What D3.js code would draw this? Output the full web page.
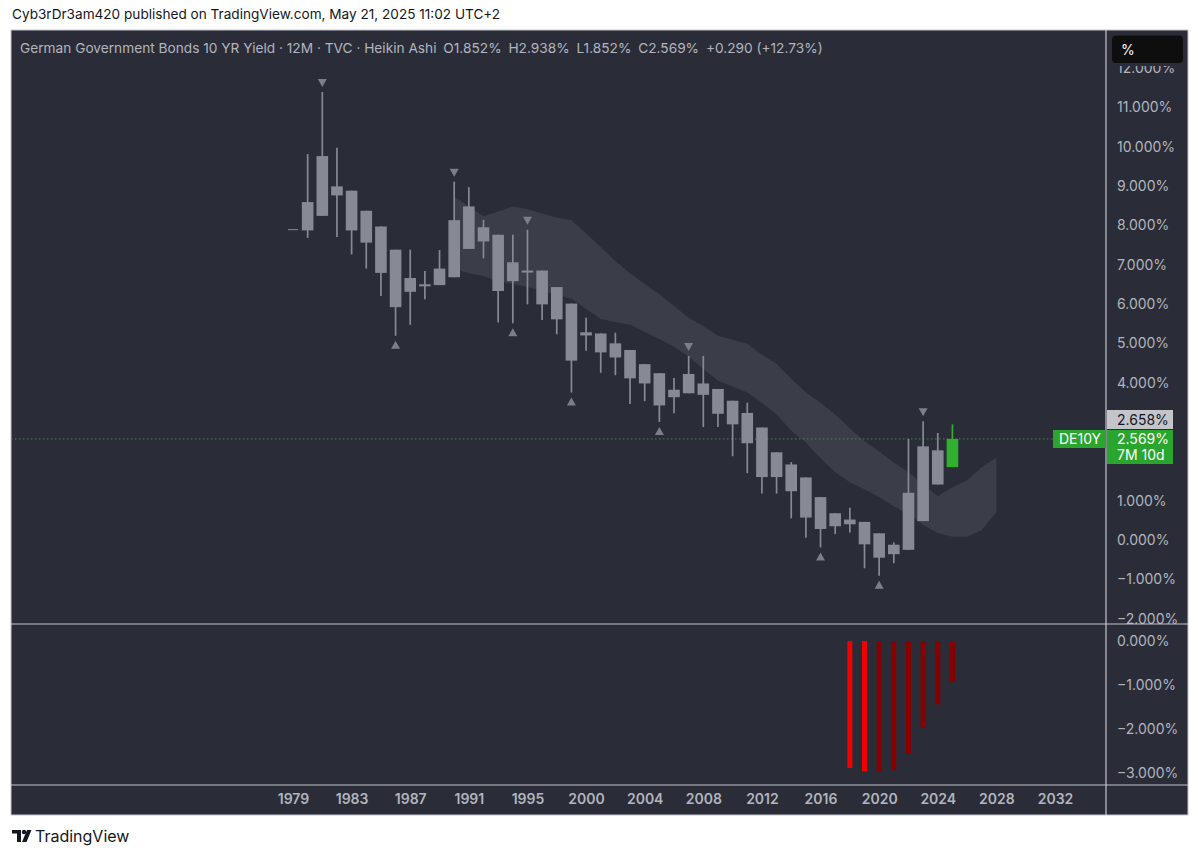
<!DOCTYPE html>
<html lang="en">
<head>
  <meta charset="utf-8" />
  <title>DE10Y Heikin Ashi 12M</title>
  <script src="https://d3js.org/d3.v7.min.js"></script>
  <style>
    body { margin: 0; background: #ffffff; font-family: Inter, "Noto Sans", sans-serif; }
    .axis text { fill: #b2b5be; font-size: 14px; font-family: Inter, sans-serif; }
    .taxis text { font-weight: 600; }
  </style>
</head>
<body>
<svg width="1200" height="856"></svg>
<script>
// year labels every 4 bars
const tickLabels = ["1979", "1983", "1987", "1991", "1995", "2000", "2004",
  "2008", "2012", "2016", "2020", "2024", "2028", "2032"];

// heikin ashi candles, one per year (bar index 0..45)
const haOpen  = [7.89, 7.87, 8.24, 8.99, 8.88, 8.37, 7.97, 7.38, 6.66, 6.48,
  6.48, 6.68, 7.40, 7.95, 7.76, 7.06, 6.82, 6.85, 6.43, 6.01,
  5.28, 5.25, 5.00, 4.83, 4.47, 4.24, 3.82, 3.73, 3.98, 3.84,
  3.54, 3.23, 2.86, 2.23, 1.92, 1.59, 1.09, 0.68, 0.52, 0.46,
  0.17, -0.12, -0.25, 0.48, 1.41, 1.852];
const haHigh  = [7.89, 9.81, 11.39, 9.97, 8.88, 8.37, 7.97, 7.38, 7.38, 6.84,
  7.37, 9.11, 8.97, 8.14, 7.76, 7.76, 7.89, 6.85, 6.43, 6.01,
  5.65, 5.25, 5.27, 4.83, 4.47, 4.24, 4.12, 4.68, 4.68, 3.84,
  3.54, 3.49, 2.86, 2.23, 1.98, 1.59, 1.09, 0.68, 0.82, 0.46,
  0.17, -0.06, 2.57, 3.02, 2.72, 2.938];
const haLow   = [7.89, 7.68, 8.24, 7.70, 7.26, 6.90, 6.20, 5.19, 5.47, 6.12,
  6.48, 6.68, 7.40, 7.16, 5.53, 5.51, 5.99, 5.59, 5.23, 3.75,
  4.81, 4.25, 4.19, 3.46, 3.53, 3.00, 3.22, 3.73, 2.87, 2.87,
  2.13, 1.70, 1.18, 1.18, 0.55, 0.06, -0.19, 0.15, 0.19, -0.72,
  -0.91, -0.59, -0.25, 0.48, 1.41, 1.852];
const haClose = [7.89, 8.59, 9.76, 8.76, 7.87, 7.56, 6.79, 5.92, 6.31, 6.50,
  6.90, 8.13, 8.48, 7.59, 6.33, 6.58, 6.85, 5.99, 5.61, 4.56,
  5.20, 4.77, 4.64, 4.11, 3.98, 3.42, 3.63, 4.22, 3.69, 3.21,
  2.94, 2.46, 1.60, 1.60, 1.24, 0.57, 0.28, 0.35, 0.40, -0.11,
  -0.45, -0.36, 1.20, 2.38, 2.28, 2.569];

// pivot markers (bar indices)
const markDown = [2, 11, 16, 27, 43];
const markUp = [7, 15, 19, 25, 36, 40];

// shaded band, starts at bar 11, runs 3 bars past the last candle
const bandStart = 11;
const bandUpper = [8.73, 8.48, 8.23, 8.35, 8.48, 8.41, 8.30, 8.20, 8.13, 7.80,
  7.44, 7.09, 6.78, 6.51, 6.25, 5.95, 5.65, 5.44, 5.19, 5.09,
  4.99, 4.71, 4.48, 4.10, 3.75, 3.49, 3.19, 2.84, 2.51, 2.25,
  1.97, 1.72, 1.42, 1.11, 1.34, 1.52, 1.85, 2.10];
const bandLower = [6.89, 6.78, 6.71, 6.58, 6.51, 6.43, 6.33, 6.23, 6.13, 5.87,
  5.62, 5.54, 5.47, 5.29, 5.11, 4.91, 4.66, 4.35, 4.05, 3.90,
  3.75, 3.49, 3.19, 2.78, 2.48, 2.08, 1.72, 1.47, 1.29, 1.09,
  0.86, 0.66, 0.38, 0.18, 0.08, 0.08, 0.25, 0.71];

// lower pane histogram, starts at bar 38
const histStart = 38;
const histVals = [-2.88, -2.96, -2.95, -2.93, -2.56, -1.97, -1.44, -0.93];

// 3% and 2% sit under the price tags, as in the original
const mainTicks = [12, 11, 10, 9, 8, 7, 6, 5, 4, 1, 0, -1, -2];
const subTicks = [0, -1, -2, -3];

const svg = d3.select("svg");
const L = 11, R = 1188, T = 30, B = 815, AX = 1106, PANE = 624, TAX = 785;

const x = d3.scaleLinear().domain([0, 52]).range([293, 1055]);
const y = d3.scaleLinear().domain([0, 11]).range([540, 107.3]);
const y2 = d3.scaleLinear().domain([0, -3]).range([641, 773.3]);
const fmt = d => d3.format(".3f")(d) + "%";

// header
svg.append("text").attr("x", 12).attr("y", 19)
  .attr("font-size", 13.6).attr("fill", "#131722")
  .text("Cyb3rDr3am420 published on TradingView.com, May 21, 2025 11:02 UTC+2");

// frame
svg.append("rect").attr("x", L).attr("y", T).attr("width", R - L).attr("height", B - T)
  .attr("fill", "#2a2d38").attr("stroke", "#c4c6cc").attr("stroke-width", 1);

const defs = svg.append("defs");
defs.append("clipPath").attr("id", "labelClip").append("rect")
  .attr("x", AX).attr("y", 66).attr("width", R - AX).attr("height", PANE - 66);
defs.append("clipPath").attr("id", "plotClip").append("rect")
  .attr("x", L).attr("y", T).attr("width", AX - L).attr("height", PANE - T);

const plot = svg.append("g").attr("clip-path", "url(#plotClip)");

// band
const bandIdx = bandUpper.map((d, i) => bandStart + i);
plot.append("path")
  .datum(bandIdx)
  .attr("fill", "#3b3d48")
  .attr("d", d3.area()
    .x(i => x(i))
    .y0(i => y(bandLower[i - bandStart]))
    .y1(i => y(bandUpper[i - bandStart])));

// current price line
plot.append("line")
  .attr("x1", L).attr("x2", AX)
  .attr("y1", y(haClose[45])).attr("y2", y(haClose[45]))
  .attr("stroke", "#3f8f44").attr("stroke-width", 1).attr("stroke-dasharray", "1.5,2.5");

// candles
const idx = d3.range(haOpen.length);
const last = haOpen.length - 1;
const col = i => i === last ? "#2fb02f" : "#878a94";
const cg = plot.append("g");
cg.selectAll("line.wick").data(idx).join("line")
  .attr("class", "wick")
  .attr("x1", i => x(i)).attr("x2", i => x(i))
  .attr("y1", i => y(haHigh[i])).attr("y2", i => y(haLow[i]))
  .attr("stroke", col).attr("stroke-width", 1.7);
cg.selectAll("rect").data(idx).join("rect")
  .attr("x", i => x(i) - 5.8)
  .attr("width", 11.6)
  .attr("y", i => Math.min(y(haOpen[i]), y(haClose[i])) - (i === 0 ? 0.5 : 0))
  .attr("height", i => Math.max(Math.abs(y(haOpen[i]) - y(haClose[i])), i === 0 ? 1 : 2))
  .attr("fill", col);
// candle 0 is a bare dash
cg.select("rect").attr("x", x(0) - 5).attr("width", 10).attr("fill", "#878a94");

// markers
const mg = plot.append("g").attr("fill", "#7c7f89");
mg.selectAll("path.dn").data(markDown).join("path")
  .attr("d", i => {
    const cx = x(i), yb = y(haHigh[i]) - 5;
    return `M${cx - 4.5},${yb - 8}L${cx + 4.5},${yb - 8}L${cx},${yb}Z`;
  });
mg.selectAll("path.up").data(markUp).join("path")
  .attr("d", i => {
    const cx = x(i), yt = y(haLow[i]) + 5;
    return `M${cx - 4.5},${yt + 8}L${cx + 4.5},${yt + 8}L${cx},${yt}Z`;
  });

// lower pane histogram
const hIdx = histVals.map((d, i) => histStart + i);
svg.append("g").selectAll("rect").data(hIdx).join("rect")
  .attr("x", i => x(i) - 2.5).attr("width", 5)
  .attr("y", y2(0))
  .attr("height", i => y2(histVals[i - histStart]) - y2(0))
  .attr("fill", i => {
    const k = i - histStart;
    return (k === 0 || histVals[k] < histVals[k - 1]) ? "#f20000" : "#880000";
  });

// price axis labels (clip on an untransformed wrapper)
const ya = svg.append("g").attr("clip-path", "url(#labelClip)")
  .append("g").attr("class", "axis")
  .attr("transform", `translate(${AX},0)`)
  .call(d3.axisRight(y).tickValues(mainTicks).tickSize(0).tickPadding(11).tickFormat(fmt));
ya.select(".domain").remove();

const ya2 = svg.append("g").attr("class", "axis")
  .attr("transform", `translate(${AX},0)`)
  .call(d3.axisRight(y2).tickValues(subTicks).tickSize(0).tickPadding(11).tickFormat(fmt));
ya2.select(".domain").remove();

// time axis
const xa = svg.append("g").attr("class", "axis taxis")
  .attr("transform", `translate(0,${TAX})`)
  .call(d3.axisBottom(x).tickValues(tickLabels.map((d, i) => i * 4))
    .tickSize(0).tickPadding(9).tickFormat((d, i) => tickLabels[i]));
xa.select(".domain").remove();

// separators
const sep = svg.append("g").attr("stroke", "#c4c6cc").attr("stroke-width", 1.2);
sep.append("line").attr("x1", AX).attr("x2", AX).attr("y1", T).attr("y2", B);
sep.append("line").attr("x1", L).attr("x2", R).attr("y1", PANE).attr("y2", PANE);
sep.append("line").attr("x1", L).attr("x2", R).attr("y1", TAX).attr("y2", TAX);

// legend
svg.append("text").attr("x", 20).attr("y", 53)
  .attr("font-size", 13.7).attr("fill", "#b2b5be")
  .text("German Government Bonds 10 YR Yield · 12M · TVC · Heikin Ashi\u2002O1.852%\u2002H2.938%\u2002L1.852%\u2002C2.569%\u2002+0.290 (+12.73%)");

// unit box
svg.append("rect").attr("x", 1112).attr("y", 35.5).attr("width", 71).attr("height", 27.5)
  .attr("rx", 4).attr("fill", "#0e0e0f");
svg.append("text").attr("x", 1121).attr("y", 55).attr("font-size", 14)
  .attr("fill", "#ffffff").text("%");

// price tags
const tg = svg.append("g").attr("font-size", 14);
tg.append("rect").attr("x", 1107).attr("y", 410).attr("width", 66).attr("height", 19)
  .attr("fill", "#c3c5cb");
tg.append("text").attr("x", 1117).attr("y", 424.5).attr("fill", "#131722").text("2.658%");
tg.append("rect").attr("x", 1107).attr("y", 430).attr("width", 66).attr("height", 34)
  .attr("fill", "#2aa52e");
tg.append("text").attr("x", 1117).attr("y", 444).attr("fill", "#ffffff").text(fmt(haClose[45]));
tg.append("text").attr("x", 1117).attr("y", 460).attr("fill", "#ffffff").text("7M 10d");
tg.append("rect").attr("x", 1053).attr("y", 430).attr("width", 53).attr("height", 18)
  .attr("fill", "#2aa52e");
tg.append("text").attr("x", 1059).attr("y", 444).attr("fill", "#ffffff").text("DE10Y");

// footer logo
const lg = svg.append("g").attr("fill", "#131722");
lg.append("path").attr("d", "M12,830h9v12h-4v-8.5h-5Z");
lg.append("circle").attr("cx", 24).attr("cy", 832).attr("r", 2.2);
lg.append("path").attr("d", "M27,830h4.5l-5,12h-4.5Z");
svg.append("text").attr("x", 35).attr("y", 842).attr("font-size", 16)
  .attr("fill", "#131722").text("TradingView");
</script>
</body>
</html>
